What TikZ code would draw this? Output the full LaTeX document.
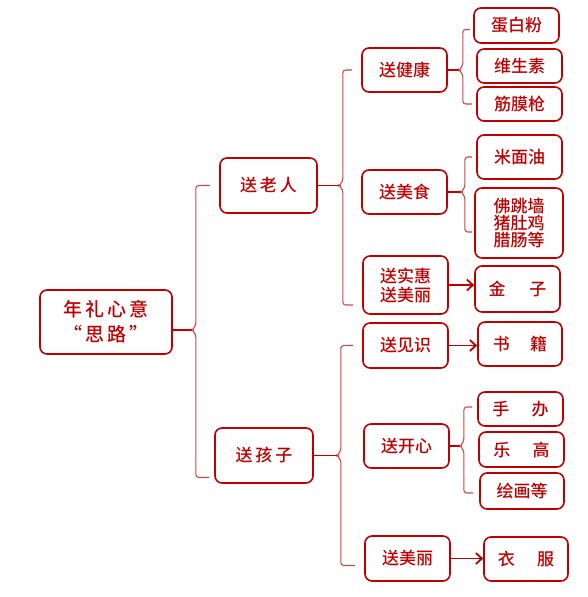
\documentclass[tikz,border=0pt]{standalone}
\usepackage{fontspec}
\newfontfamily\cjk[UprightFont={* Medium}]{Noto Sans CJK SC}
\usetikzlibrary{arrows.meta, calc, positioning}
\definecolor{giftred}{HTML}{C00000}
\definecolor{bracered}{HTML}{D04848}

\begin{document}
\begin{tikzpicture}[x=1pt, y=-1pt,
  gift/.style={draw=giftred, line width=1.6pt, rounded corners=7pt, text=giftred,
    font=\cjk\fontsize{17}{19}\selectfont, align=center, inner sep=0pt,
    minimum width=85pt, minimum height=44pt},
  stub/.style={draw=giftred, line width=1.8pt},
  brace/.style={draw=bracered, line width=1.1pt, rounded corners=3pt},
  giftarrow/.style={draw=giftred, line width=1.8pt, -{Straight Barb[length=6pt, width=11pt]}}]
\useasboundingbox (0,0) rectangle (587,597);

\node[gift, minimum width=132pt, minimum height=64pt, font=\cjk\fontsize{19}{25}\selectfont] (root) at (106,322) {年\,礼\,心\,意\\“\,思\,路\,”};

\node[gift, minimum width=97pt, minimum height=55pt] (laoren) at (268.5,185.5) {送\,老\,人};
\node[gift, minimum width=98pt, minimum height=55pt] (haizi) at (264,455.5) {送\,孩\,子};

\node[gift] (jiankang) at (404.5,70) {送健康};
\node[gift] (meishi) at (404.5,192) {送美食};
\node[gift, minimum height=58pt] (shihui) at (405.5,285) {送实惠\\送美丽};
\node[gift, minimum height=45pt] (jianshi) at (405.5,345.5) {送见识};
\node[gift] (kaixin) at (406.5,446) {送开心};
\node[gift, minimum height=45pt] (meili) at (407.5,558.5) {送美丽};

\node[gift, minimum height=35pt] (danbai) at (516.5,25.5) {蛋白粉};
\node[gift, minimum height=34pt] (weisheng) at (519.5,66) {维生素};
\node[gift, minimum height=34pt] (jinmo) at (519.5,104) {筋膜枪};
\node[gift] (mianyou) at (519.5,157) {米面油};
\node[gift, minimum width=88pt, minimum height=70pt, font=\cjk\fontsize{17}{17}\selectfont] (fotiao) at (519,223) {佛跳墙\\猪肚鸡\\腊肠等};
\node[gift, minimum height=46pt] (jinzi) at (517.5,289) {金\hspace{1.4em}子};
\node[gift, minimum width=84pt] (shuji) at (520,344) {书\hspace{1.2em}籍};
\node[gift, minimum height=34pt] (shouban) at (520.5,409) {手\hspace{1.3em}办};
\node[gift, minimum height=35pt] (legao) at (521.5,449.5) {乐\hspace{1.3em}高};
\node[gift, minimum width=84pt, minimum height=36pt] (huihua) at (522,491) {绘画等};
\node[gift, minimum width=84pt] (yifu) at (526,559) {衣\hspace{1.3em}服};

% root
\draw[stub] ([yshift=-8pt]root.east) -- ++(19,0) coordinate (root-b);
\draw[brace] ([xshift=-9pt]laoren.west) -| ([shift={(4pt,4pt)}]root-b) -- (root-b) -- ([shift={(4pt,-4pt)}]root-b) |- ([shift={(-5pt,-22pt)}]haizi.west);

% laoren
\draw[stub] (laoren.east) -- ++(21,0) coordinate (laoren-b);
\draw[brace] ([xshift=-9pt]jiankang.west) -| ([shift={(4pt,4pt)}]laoren-b) -- (laoren-b) -- ([shift={(4pt,-4pt)}]laoren-b) |- ([shift={(-9pt,-20pt)}]shihui.west);

\draw[stub] (jiankang.east) -- ++(11,0) coordinate (jiankang-b);
\draw[brace] ([shift={(-3pt,-4pt)}]danbai.west) -| ([shift={(4pt,4pt)}]jiankang-b) -- (jiankang-b) -- ([shift={(4pt,-4pt)}]jiankang-b) |- ([xshift=-4pt]jinmo.west);

\draw[stub] (meishi.east) -- ++(13,0) coordinate (meishi-b);
\draw[brace] ([xshift=-4pt]mianyou.west) -| ([shift={(4pt,4pt)}]meishi-b) -- (meishi-b) -- ([shift={(4pt,-4pt)}]meishi-b) |- ([shift={(-2pt,-9pt)}]fotiao.west);

\draw[giftarrow] (shihui.east) -- (shihui.east -| jinzi.west);

% haizi
\draw[stub] (haizi.east) -- ++(23,0) coordinate (haizi-b);
\draw[brace] ([xshift=-9pt]jianshi.west) -| ([shift={(4pt,4pt)}]haizi-b) -- (haizi-b) -- ([shift={(4pt,-4pt)}]haizi-b) |- ([shift={(-9pt,-7pt)}]meili.west);

\draw[giftarrow] (jianshi.east) -- (jianshi.east -| shuji.west);

\draw[stub] (kaixin.east) -- ++(10,0) coordinate (kaixin-b);
\draw[brace] ([shift={(-5pt,2pt)}]shouban.west) -| ([shift={(4pt,4pt)}]kaixin-b) -- (kaixin-b) -- ([shift={(4pt,-4pt)}]kaixin-b) |- ([shift={(-6pt,-2pt)}]huihua.west);

\draw[giftarrow] (meili.east) -- (meili.east -| yifu.west);

\end{tikzpicture}
\end{document}
